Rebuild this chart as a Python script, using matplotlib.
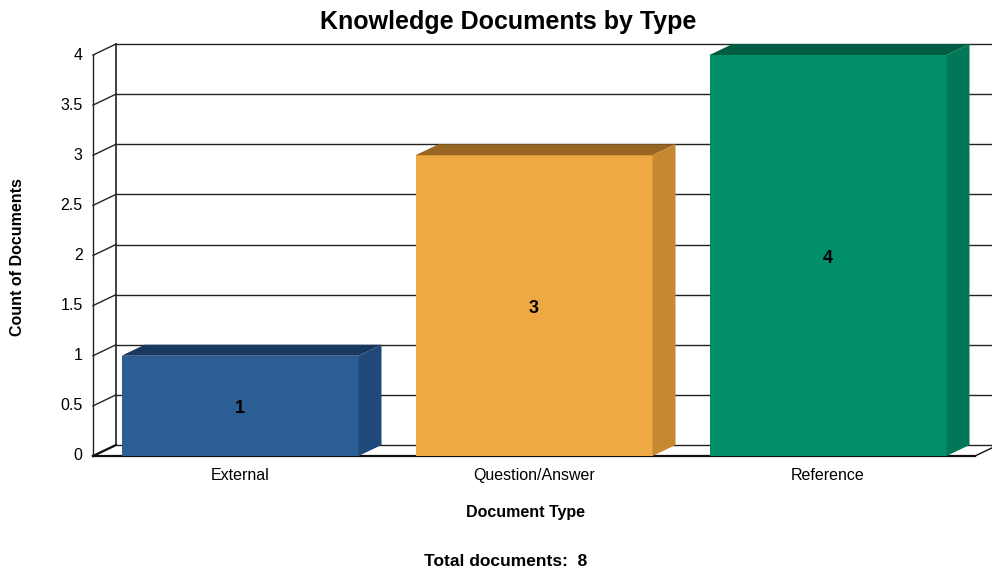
import matplotlib
matplotlib.use("Agg")
import matplotlib.pyplot as plt
from matplotlib.patches import Polygon

plt.rcParams['font.family'] = ['Liberation Sans', 'DejaVu Sans']

categories = ["External", "Question/Answer", "Reference"]
counts = [1, 3, 4]
front_colors = ["#2D5D95", "#EEA944", "#008F69"]
top_colors = ["#18385E", "#996523", "#005C42"]
side_colors = ["#1F4A79", "#C68830", "#007855"]
yticks = [0, 0.5, 1, 1.5, 2, 2.5, 3, 3.5, 4]
ytick_labels = ["0", "0.5", "1", "1.5", "2", "2.5", "3", "3.5", "4"]
total = sum(counts)

W, H = 992, 571
fig = plt.figure(figsize=(W / 100, H / 100), dpi=100)
# front plane: x px 93..975, y px 456 (0) .. 55 (4)
ax = fig.add_axes([93 / W, (H - 456) / H, (975 - 93) / W, (456 - 55) / H])
ax.set_xlim(-0.5, 2.5)
ax.set_ylim(0, 4)
ax.axis("off")

px_x = (975 - 93) / 3.0
px_y = (456 - 55) / 4.0
dx = 23 / px_x
dy = 11 / px_y
xmin, xmax = -0.5, 2.5
xfar = xmax + dx + 0.2

# back wall gridlines
for t in yticks:
    ax.plot([xmin + dx, xfar], [t + dy, t + dy], color="#222222", lw=1.0,
            clip_on=False, zorder=1)
    ax.plot([xmin, xmin + dx], [t, t + dy], color="#222222", lw=1.0,
            clip_on=False, zorder=1)
# left wall verticals
ax.plot([xmin, xmin], [0, 4], color="#222222", lw=1.0, clip_on=False, zorder=1)
ax.plot([xmin + dx, xmin + dx], [dy, 4 + dy], color="#222222", lw=1.2,
        clip_on=False, zorder=1)
# floor
ax.plot([xmin, xmax], [0, 0], color="#111111", lw=1.6, clip_on=False, zorder=1)
ax.plot([xmax, xmax + dx], [0, dy], color="#111111", lw=1.0, clip_on=False, zorder=1)
ax.plot([xmin, xmin + dx], [0, dy], color="#111111", lw=1.6, clip_on=False, zorder=1)

# bars
bw = 237 / px_x
for i, (c, v) in enumerate(zip(categories, counts)):
    x0, x1 = i - bw / 2, i + bw / 2
    front = Polygon([(x0, 0), (x1, 0), (x1, v), (x0, v)], closed=True,
                    facecolor=front_colors[i], edgecolor="none", zorder=3,
                    clip_on=False)
    top = Polygon([(x0, v), (x1, v), (x1 + dx, v + dy), (x0 + dx, v + dy)],
                  closed=True, facecolor=top_colors[i], edgecolor="none",
                  zorder=3, clip_on=False)
    side = Polygon([(x1, 0), (x1 + dx, dy), (x1 + dx, v + dy), (x1, v)],
                   closed=True, facecolor=side_colors[i], edgecolor="none",
                   zorder=3, clip_on=False)
    for p in (front, top, side):
        ax.add_patch(p)
    ax.text(i, v / 2 - 0.03, str(v), ha="center", va="center", fontsize=13,
            fontweight="bold", color="black", zorder=4)
    ax.text(i, -0.12, c, ha="center", va="top", fontsize=11.5, color="black")

for t, lab in zip(yticks, ytick_labels):
    ax.text(xmin - 0.035, t, lab, ha="right", va="center", fontsize=11.5,
            color="black")

fig.text(508 / W, 1 - 22 / H, "Knowledge Documents by Type", ha="center",
         va="center", fontsize=18, fontweight="bold")
fig.text(18 / W, 1 - 257 / H, "Count of Documents", ha="center", va="center",
         rotation=90, fontsize=11.5, fontweight="bold")
fig.text(525 / W, 1 - 512 / H, "Document Type", ha="center", va="center",
         fontsize=11.5, fontweight="bold")
fig.text(506 / W, 1 - 561 / H, f"Total documents:  {total}", ha="center",
         va="center", fontsize=12.5, fontweight="bold")

fig.savefig("out.png", dpi=100)
